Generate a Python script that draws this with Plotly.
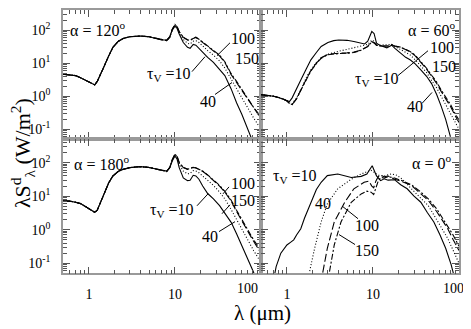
import math
import plotly.graph_objects as go

# ---------------- data ----------------
tau_values = [10, 40, 100, 150]

# alpha = 120 deg (top-left)
lam_120 = [0.5, 0.6, 0.7, 0.8, 0.9, 1.0, 1.1, 1.17, 1.25, 1.35, 1.5, 1.7, 1.9, 2.2, 2.5, 3.0, 3.5, 4.0,
           5.0, 6.0, 7.0, 8.0, 8.7, 9.3, 10, 10.6, 11.2, 12.5, 14, 15, 16.3, 17.5, 19, 21, 24, 28, 33,
           38, 45, 52, 60, 70, 82, 100]
_base_120 = [4.6, 4.5, 4.2, 3.6, 3.1, 2.7, 2.4, 2.2, 2.8, 4.2, 7.9, 16.6, 30, 46, 56, 63, 66, 66,
             63, 56, 50]
s120_t10 = _base_120 + [50, 63, 100, 132, 112, 76, 42, 30, 28, 37, 35, 28, 21, 15, 10.5, 6.6,
                        4.2, 1.66, 0.63, 0.28, 0.11, 0.045, 0.01]
s120_t40 = _base_120 + [48, 60, 102, 138, 120, 83, 52, 40, 38, 46, 48, 42, 32, 24, 17.4, 11.7,
                        7.1, 3.2, 1.66, 0.89, 0.45, 0.22, 0.10]
s120_t100 = _base_120 + [48, 60, 105, 145, 126, 89, 60, 50, 48, 56, 60, 52, 42, 32, 24, 16.6,
                         10.5, 4.5, 2.6, 1.5, 0.79, 0.42, 0.21]
s120_t150 = _base_120 + [48, 61, 106, 148, 128, 90, 61, 51, 49, 57, 61, 53, 43, 33, 25, 17.4,
                         11, 4.8, 2.8, 1.6, 0.85, 0.46, 0.24]

# alpha = 180 deg (bottom-left)
lam_180 = lam_120
_base_180 = [7.2, 7.1, 6.6, 6.0, 5.0, 4.2, 3.5, 3.3, 3.8, 6.3, 12.6, 25, 40, 55, 63, 71, 74, 76,
             72, 66, 59]
s180_t10 = _base_180 + [56, 71, 112, 158, 126, 71, 35, 29, 30, 42, 40, 32, 20, 12, 8.3, 5.2,
                        3.0, 1.66, 0.76, 0.34, 0.14, 0.054, 0.01]
s180_t40 = _base_180 + [55, 72, 118, 166, 140, 89, 56, 46, 48, 58, 56, 50, 40, 28, 21, 13.2,
                        8.3, 4.0, 2.0, 1.0, 0.5, 0.24, 0.105]
s180_t100 = _base_180 + [54, 71, 120, 178, 151, 100, 71, 63, 66, 72, 69, 63, 55, 42, 30, 20,
                         13.2, 7.1, 3.5, 1.8, 0.89, 0.45, 0.2]
s180_t150 = _base_180 + [54, 72, 122, 180, 153, 101, 72, 64, 67, 73, 70, 64, 56, 43, 31, 21,
                         14, 7.6, 3.8, 2.0, 1.0, 0.5, 0.24]

# alpha = 60 deg (top-right)
lam_60 = [0.5, 0.6, 0.7, 0.8, 0.9, 1.0, 1.07, 1.15, 1.3, 1.46, 1.7, 1.9, 2.2, 2.5, 3.0, 3.5, 4.0,
          5.0, 6.0, 7.0, 8.0, 8.7, 9.3, 9.7, 10.3, 11, 12, 13.5, 14.5, 15.5, 16.5, 18, 21, 24, 27,
          31, 36, 42, 48, 55, 62, 70, 80, 90, 100]
s60_t10 = [1.11, 1.07, 1.0, 0.91, 0.83, 0.76, 0.69, 0.89, 1.78, 3.2, 7.1, 12.6, 21, 32, 42, 48, 50,
           49, 45, 41, 38, 46, 71, 91, 79, 40, 35, 32, 29, 32, 35, 28, 20, 15, 12.6, 9.5, 6.3, 4.0,
           2.4, 1.12, 0.5, 0.2, 0.056, 0.0126, 0.003]
s60_t40 = [1.11, 1.07, 1.0, 0.91, 0.83, 0.74, 0.62, 0.58, 0.9, 1.6, 3.9, 6.3, 10.5, 14.5, 18.6, 21,
           23, 26, 29, 32, 35, 37, 44, 50, 46, 35, 35, 36, 36, 37, 37, 32, 26, 21, 17.8, 12.6, 8.3,
           5.2, 3.0, 1.78, 1.0, 0.56, 0.30, 0.17, 0.10]
s60_t100 = [1.11, 1.07, 1.0, 0.91, 0.83, 0.72, 0.6, 0.56, 0.85, 1.6, 3.5, 6.0, 10, 14.5, 18.6,
            19.5, 20, 20.5, 21.5, 24, 28, 32, 40, 45, 42, 35, 33, 33, 32, 33, 36, 33, 30, 26, 22,
            16.6, 10.7, 6.6, 4.0, 2.45, 1.4, 0.83, 0.48, 0.26, 0.16]
s60_t150 = [1.11, 1.07, 1.0, 0.91, 0.83, 0.72, 0.6, 0.56, 0.84, 1.55, 3.4, 5.8, 9.7, 14, 18,
            19.2, 19.5, 20, 21, 23.5, 27.5, 31.5, 39, 44, 41, 35, 33, 33, 32, 33, 36, 33, 30.5,
            26.5, 22.5, 17.4, 11.2, 7.0, 4.3, 2.7, 1.55, 0.93, 0.55, 0.30, 0.19]

# alpha = 0 deg (bottom-right)
lam_0_t10 = [0.7, 0.75, 0.85, 1.0, 1.1, 1.2, 1.3, 1.45, 1.6, 1.9, 2.2, 2.5, 2.95, 3.9, 5.6, 7.3,
             8.5, 9.3, 9.8, 10.4, 11, 12.3, 13.5, 15, 17.8, 21, 25, 30, 36, 43, 51, 60, 70, 81, 90]
s0_t10 = [0.032, 0.079, 0.2, 0.35, 0.42, 0.5, 0.71, 1.07, 2.2, 6.6, 15.8, 26, 41, 46, 36, 39, 46,
          66, 81, 56, 40, 29, 33, 30, 31, 22, 16.6, 10, 6.6, 3.2, 1.7, 0.71, 0.28, 0.091, 0.032]
lam_0_t40 = [1.75, 1.85, 2.1, 2.5, 2.95, 3.9, 5.6, 7.3, 8.5, 9.5, 10.5, 11.5, 13.5, 16.3, 19, 22,
             28, 35, 44, 55, 74, 85, 100]
s0_t40 = [0.032, 0.063, 0.28, 1.7, 5.9, 16.6, 32, 46, 52, 59, 50, 42, 40, 46, 42, 32, 16.6, 9.5,
          5.2, 2.0, 0.55, 0.25, 0.1]
lam_0_t100 = [2.5, 2.6, 2.95, 3.55, 4.7, 6.0, 7.9, 9.0, 9.7, 10.2, 10.8, 11.5, 12.3, 13.5, 15,
              17.8, 21, 28, 35, 44, 55, 74, 85, 100]
s0_t100 = [0.025, 0.05, 0.28, 1.7, 6.6, 16.6, 26, 28, 20, 17.8, 28, 38, 42, 38, 40, 32, 28, 21,
           12.6, 7.4, 3.5, 1.07, 0.52, 0.24]
lam_0_t150 = [3.0, 3.1, 3.55, 4.25, 5.6, 7.3, 8.5, 9.5, 10.2, 10.8, 11.5, 12.3, 13.5, 15, 17.8,
              21, 28, 35, 44, 55, 74, 85, 100]
s0_t150 = [0.025, 0.05, 0.35, 1.7, 6.6, 11.7, 14.1, 13.2, 11.2, 17.8, 28, 36, 35, 38, 35, 30, 22,
           14.1, 8.3, 4.2, 1.3, 0.71, 0.32]

x_tick_vals = [1, 10, 100]
x_tick_text = ["1", "10", ""]
y_tick_vals = [0.1, 1, 10, 100]
y_tick_text = ["10<sup>-1</sup>", "10<sup>0</sup>", "10<sup>1</sup>", "10<sup>2</sup>"]

# ---------------- figure ----------------
# the page body adds an 8px margin, so the figure is shifted by 8px
OFF = 8
W, H = 471 - OFF, 329 - OFF
FONT = "Liberation Serif, Times New Roman, serif"


def px(x):
    return (x - OFF) / W


def py(y):
    return 1 - (y - OFF) / H


styles = {
    10: dict(dash="solid", width=1.1),
    40: dict(dash="1px,2px", width=1.1),
    100: dict(dash="8px,3px", width=1.1),
    150: dict(dash="6px,2px,2px,2px", width=1.1),
}

panels = [
    ("x", "y", [(lam_120, s120_t10), (lam_120, s120_t40), (lam_120, s120_t100), (lam_120, s120_t150)]),
    ("x2", "y2", [(lam_60, s60_t10), (lam_60, s60_t40), (lam_60, s60_t100), (lam_60, s60_t150)]),
    ("x3", "y3", [(lam_180, s180_t10), (lam_180, s180_t40), (lam_180, s180_t100), (lam_180, s180_t150)]),
    ("x4", "y4", [(lam_0_t10, s0_t10), (lam_0_t40, s0_t40), (lam_0_t100, s0_t100), (lam_0_t150, s0_t150)]),
]

fig = go.Figure()
for xa, ya, curves in panels:
    for tau, (lam, s) in zip(tau_values, curves):
        fig.add_trace(go.Scatter(x=lam, y=s, mode="lines", xaxis=xa, yaxis=ya,
                                 line=dict(color="black", **styles[tau]),
                                 showlegend=False, hoverinfo="skip"))

minor_x = [m * d for d in (0.1, 1, 10) for m in range(2, 10)]
minor_y = [m * d for d in (0.01, 0.1, 1, 10, 100) for m in range(2, 10)]

xL = [px(63), px(261)]
xR = [px(261), px(459)]
yT = [py(138), 1.0]          # top edge of the page area (image y = 8)
yB = [py(273), py(138)]
DEC = 33.4                   # pixels per decade on the y axes
y_top_range = [math.log10(0.05), 2 + (28.3 - OFF) / DEC]
y_bot_range = [math.log10(0.05), math.log10(500)]

tickfont = dict(family=FONT, size=14, color="black")


def xaxis(domain, anchor, labels):
    return dict(type="log", range=[math.log10(0.5), 2], domain=domain, anchor=anchor,
                tickmode="array", tickvals=x_tick_vals, ticktext=x_tick_text,
                showticklabels=labels, ticks="inside", ticklen=7, tickwidth=1, tickcolor="#555",
                showline=True, linecolor="#9a9a9a", linewidth=1.5, mirror="ticks",
                showgrid=False, zeroline=False, tickfont=tickfont, ticklabelstandoff=7,
                minor=dict(ticks="inside", ticklen=4, tickwidth=1, tickcolor="#555",
                           tickmode="array", tickvals=minor_x, showgrid=False))


def yaxis(domain, anchor, labels, rng):
    return dict(type="log", range=rng, domain=domain, anchor=anchor,
                tickmode="array", tickvals=y_tick_vals, ticktext=y_tick_text,
                showticklabels=labels, ticks="inside", ticklen=7, tickwidth=1, tickcolor="#555",
                showline=True, linecolor="#9a9a9a", linewidth=1.5, mirror="ticks",
                showgrid=False, zeroline=False, tickfont=tickfont, ticklabelstandoff=8,
                minor=dict(ticks="inside", ticklen=4, tickwidth=1, tickcolor="#555",
                           tickmode="array", tickvals=minor_y, showgrid=False))


fig.update_layout(
    width=W, height=H, margin=dict(l=0, r=0, t=0, b=0),
    paper_bgcolor="white", plot_bgcolor="white",
    font=dict(family=FONT, color="black"),
    xaxis=xaxis(xL, "y", False), yaxis=yaxis(yT, "x", True, y_top_range),
    xaxis2=xaxis(xR, "y2", False), yaxis2=yaxis(yT, "x2", False, y_top_range),
    xaxis3=xaxis(xL, "y3", True), yaxis3=yaxis(yB, "x3", True, y_bot_range),
    xaxis4=xaxis(xR, "y4", True), yaxis4=yaxis(yB, "x4", False, y_bot_range),
)

ann = []


def text(x, y, t, size=16, xanchor="center"):
    ann.append(dict(x=px(x), y=py(y), xref="paper", yref="paper", text=t, showarrow=False,
                    xanchor=xanchor, yanchor="middle", font=dict(family=FONT, size=size, color="black")))


tau_lbl = "τ<sub>V</sub> =10"
# top-left
text(68, 27, "α = 120<sup>o</sup>", xanchor="left")
text(243, 37, "100")
text(247, 57, "150")
text(169, 73, tau_lbl)
text(208, 100, "40")
# top-right
text(457, 27, "α = 60<sup>o</sup>", xanchor="right")
text(442, 46, "100")
text(444, 65, "150")
text(377, 78, tau_lbl)
text(415, 105, "40")
# bottom-left
text(72, 162, "α = 180<sup>o</sup>", xanchor="left")
text(243, 183, "100")
text(243, 200, "150")
text(172, 210, tau_lbl)
text(210, 236, "40")
# bottom-right
text(453, 161, "α = 0<sup>o</sup>", xanchor="right")
text(295, 176, tau_lbl)
text(323, 203, "40")
text(367, 225, "100")
text(367, 250, "150")

# "100" tick labels of the bottom axes (placed slightly left of the tick, as in the figure)
for xa, shift in (("x3", -14), ("x4", -6)):
    ann.append(dict(x=2, y=py(288), xref=xa, yref="paper", text="100", showarrow=False,
                    xshift=shift, xanchor="center", yanchor="middle", font=tickfont))

# axis titles
ann.append(dict(x=px(262), y=py(313), xref="paper", yref="paper", text="λ (μm)", showarrow=False,
                xanchor="center", yanchor="middle", font=dict(family=FONT, size=21, color="black")))
ann.append(dict(x=px(22), y=py(152), xref="paper", yref="paper",
                text="λS<sup>d</sup><sub>λ</sub> (W/m<sup>2</sup>)", showarrow=False, textangle=-90,
                xanchor="center", yanchor="middle", font=dict(family=FONT, size=22, color="black")))

fig.update_layout(annotations=ann)

# leader lines
leaders = [
    (230, 41, 217, 54), (192, 70, 205, 55), (215, 93, 232, 81),
    (398, 74, 428, 49), (422, 102, 432, 91),
    (229, 186, 223, 193), (230, 204, 222, 213), (197, 205, 208, 193), (219, 231, 235, 221),
    (358, 218, 343, 206), (355, 244, 339, 234),
]
fig.update_layout(shapes=[dict(type="line", xref="paper", yref="paper", x0=px(a), y0=py(b),
                               x1=px(c), y1=py(d), line=dict(color="black", width=1))
                          for a, b, c, d in leaders])

fig.write_html("out.html")
